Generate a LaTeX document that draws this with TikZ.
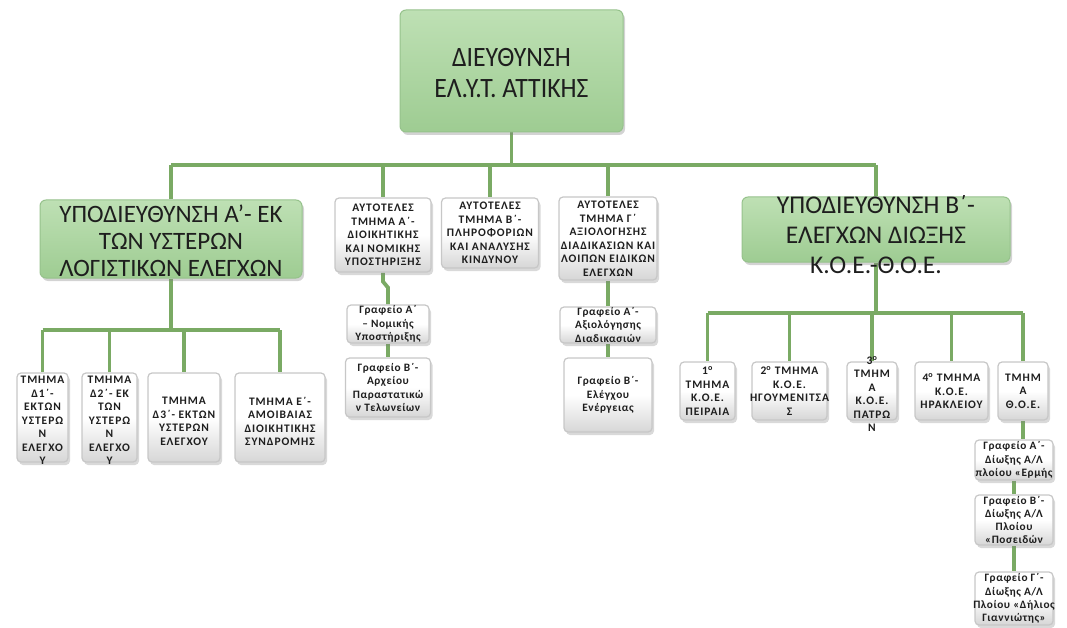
\documentclass[tikz,border=0pt]{standalone}
\usepackage{fontspec}
\setmainfont{Carlito}
\newfontfamily\bigf[FakeStretch=0.92]{Carlito}
\newfontfamily\smf[LetterSpace=8]{Carlito}
\newfontfamily\ofnt[LetterSpace=5]{Carlito}
\usetikzlibrary{shadows,calc}
\pgfdeclarelayer{bg}
\pgfsetlayers{bg,main}
\definecolor{connc}{RGB}{122,170,100}
\definecolor{gtop}{RGB}{190,224,180}
\definecolor{gbot}{RGB}{158,204,146}
\definecolor{gedge}{RGB}{150,194,140}
\definecolor{txtc}{RGB}{30,30,30}
\tikzset{
  conn/.style={draw=connc, line width=3.8pt},
  gbox/.style={rounded corners=6pt, top color=gtop, bottom color=gbot, draw=gedge, line width=1pt,
    drop shadow={opacity=0.35, shadow xshift=2pt, shadow yshift=-3pt}, inner sep=0pt},
  wbox/.style={rounded corners=4pt, top color=white, bottom color=black!16, middle color=white,
    draw=black!22, line width=1.2pt,
    drop shadow={opacity=0.3, shadow xshift=2pt, shadow yshift=-3pt}, inner sep=0pt},
  gtxt/.style={align=center, text=txtc, inner sep=0pt},
  wtxt/.style={align=center, text=txtc, inner sep=0pt, font=\smf\bfseries\fontsize{11.5}{13.5}\selectfont},
  otxt/.style={align=center, text=txtc, inner sep=0pt, font=\ofnt\bfseries\fontsize{11.3}{13.2}\selectfont},
}
\newcommand\bx[8]{%
  \node[#1, minimum width=#5pt, minimum height=#6pt] (#2) at (#3,#4) {};
  \node[#7] (#2-t) at (#2.center) {#8};}
\begin{document}
\begin{tikzpicture}[x=1pt,y=-1pt]
\useasboundingbox (0,0) rectangle (1067,628);
% top
\bx{gbox}{top}{511.5}{71}{223}{122}{gtxt, yshift=-2pt, font=\bigf\fontsize{28}{31}\selectfont}{ΔΙΕΥΘΥΝΣΗ\\ΕΛ.Υ.Τ. ΑΤΤΙΚΗΣ}
% second level
\bx{gbox}{L}{171}{239}{262}{78}{gtxt, yshift=-2pt, font=\fontsize{25}{27}\selectfont}{ΥΠΟΔΙΕΥΘΥΝΣΗ Α’- ΕΚ\\ΤΩΝ ΥΣΤΕΡΩΝ\\ΛΟΓΙΣΤΙΚΩΝ ΕΛΕΓΧΩΝ}
\bx{wbox}{a1}{383}{235}{96}{74}{wtxt}{ΑΥΤΟΤΕΛΕΣ\\ΤΜΗΜΑ Α΄-\\ΔΙΟΙΚΗΤΙΚΗΣ\\ΚΑΙ ΝΟΜΙΚΗΣ\\ΥΠΟΣΤΗΡΙΞΗΣ}
\bx{wbox}{a2}{490}{233}{97}{70}{wtxt}{ΑΥΤΟΤΕΛΕΣ\\ΤΜΗΜΑ Β΄-\\ΠΛΗΡΟΦΟΡΙΩΝ\\ΚΑΙ ΑΝΑΛΥΣΗΣ\\ΚΙΝΔΥΝΟΥ}
\bx{wbox}{a3}{608}{238.5}{98}{83}{wtxt}{ΑΥΤΟΤΕΛΕΣ\\ΤΜΗΜΑ Γ΄\\ΑΞΙΟΛΟΓΗΣΗΣ\\ΔΙΑΔΙΚΑΣΙΩΝ ΚΑΙ\\ΛΟΙΠΩΝ ΕΙΔΙΚΩΝ\\ΕΛΕΓΧΩΝ}
\bx{gbox}{R}{876}{229.5}{268}{65}{gtxt, yshift=-5pt, font=\fontsize{25.5}{30}\selectfont}{ΥΠΟΔΙΕΥΘΥΝΣΗ Β΄-\\ΕΛΕΓΧΩΝ ΔΙΩΞΗΣ\\Κ.Ο.Ε.-Θ.Ο.Ε.}
% middle offices
\bx{wbox}{m1a}{388}{324}{82}{38}{otxt}{Γραφείο Α΄\\– Νομικής\\Υποστήριξης}
\bx{wbox}{m1b}{388}{387.5}{85}{59}{otxt}{Γραφείο Β΄-\\Αρχείου\\Παραστατικώ\\ν Τελωνείων}
\bx{wbox}{m3a}{608}{325}{96}{36}{otxt}{Γραφείο Α΄-\\Αξιολόγησης\\Διαδικασιών}
\bx{wbox}{m3b}{608}{395}{88}{74}{otxt}{Γραφείο Β΄-\\Ελέγχου\\Ενέργειας}
% left departments
\bx{wbox}{b1}{42.5}{417.5}{51}{89}{wtxt, yshift=-3pt}{ΤΜΗΜΑ\\Δ1΄-\\ΕΚΤΩΝ\\ΥΣΤΕΡΩ\\Ν\\ΕΛΕΓΧΟ\\Υ}
\bx{wbox}{b2}{109.5}{417.5}{55}{89}{wtxt, yshift=-3pt}{ΤΜΗΜΑ\\Δ2΄- ΕΚ\\ΤΩΝ\\ΥΣΤΕΡΩ\\Ν\\ΕΛΕΓΧΟ\\Υ}
\bx{wbox}{b3}{184}{417.5}{72}{89}{wtxt, yshift=-4pt}{ΤΜΗΜΑ\\Δ3΄- ΕΚΤΩΝ\\ΥΣΤΕΡΩΝ\\ΕΛΕΓΧΟΥ}
\bx{wbox}{b4}{280}{417.5}{90}{89}{wtxt, yshift=-4pt}{ΤΜΗΜΑ Ε΄-\\ΑΜΟΙΒΑΙΑΣ\\ΔΙΟΙΚΗΤΙΚΗΣ\\ΣΥΝΔΡΟΜΗΣ}
% right departments
\bx{wbox}{r1}{707.5}{391}{55}{58}{wtxt}{1\textsuperscript{ο}\\ΤΜΗΜΑ\\Κ.Ο.Ε.\\ΠΕΙΡΑΙΑ}
\bx{wbox}{r2}{789.5}{391}{75}{58}{wtxt}{2\textsuperscript{ο} ΤΜΗΜΑ\\Κ.Ο.Ε.\\ΗΓΟΥΜΕΝΙΤΣΑ\\Σ}
\bx{wbox}{r3}{872}{391}{50}{58}{wtxt, yshift=-3pt}{3\textsuperscript{ο}\\ΤΜΗΜ\\Α\\Κ.Ο.Ε.\\ΠΑΤΡΩ\\Ν}
\bx{wbox}{r4}{951.5}{391}{73}{58}{wtxt}{4\textsuperscript{ο} ΤΜΗΜΑ\\Κ.Ο.Ε.\\ΗΡΑΚΛΕΙΟΥ}
\bx{wbox}{r5}{1023}{391}{50}{58}{wtxt}{ΤΜΗΜ\\Α\\Θ.Ο.Ε.}
% right column offices
\bx{wbox}{g1}{1014}{460}{78}{40}{otxt}{Γραφείο Α΄-\\Δίωξης Α/Λ\\πλοίου «Ερμής}
\bx{wbox}{g2}{1014}{520}{78}{50}{otxt}{Γραφείο Β΄-\\Δίωξης Α/Λ\\Πλοίου\\«Ποσειδών}
\bx{wbox}{g3}{1014}{598.5}{78}{53}{otxt}{Γραφείο Γ΄-\\Δίωξης Α/Λ\\Πλοίου «Δήλιος\\Γιαννιώτης»}
% buses
\coordinate (busT) at (511.5,165);
\coordinate (busL) at (171,330);
\coordinate (busR) at (876,313);
\begin{pgfonlayer}{bg}
\draw[conn] (top.south) -- (busT);
\draw[conn] (L.north |- busT) -- (R.north |- busT);
\foreach \n in {L,a1,a2,a3,R} \draw[conn] (\n.north |- busT) -- (\n.north);
\draw[conn] (L.south) -- (busL);
\draw[conn] (b1.north |- busL) -- (b4.north |- busL);
\foreach \n in {b1,b2,b3,b4} \draw[conn] (\n.north |- busL) -- (\n.north);
\draw[conn] (R.south) -- (busR);
\draw[conn] (r1.north |- busR) -- (r5.north |- busR);
\foreach \n in {r1,r2,r3,r4,r5} \draw[conn] (\n.north |- busR) -- (\n.north);
\draw[conn] (a1.south) -- ++(0,9) -- ++(5,6) -- (m1a.north);
\draw[conn] (m1a.south) -- (m1b.north);
\draw[conn] (a3.south) -- (m3a.north);
\draw[conn] (m3a.south) -- (m3b.north);
\draw[conn] (r5.south) -- (r5.south |- g1.north);
\draw[conn] (g1.south) -- (g2.north);
\draw[conn] (g2.south) -- (g3.north);
\end{pgfonlayer}
\end{tikzpicture}
\end{document}
